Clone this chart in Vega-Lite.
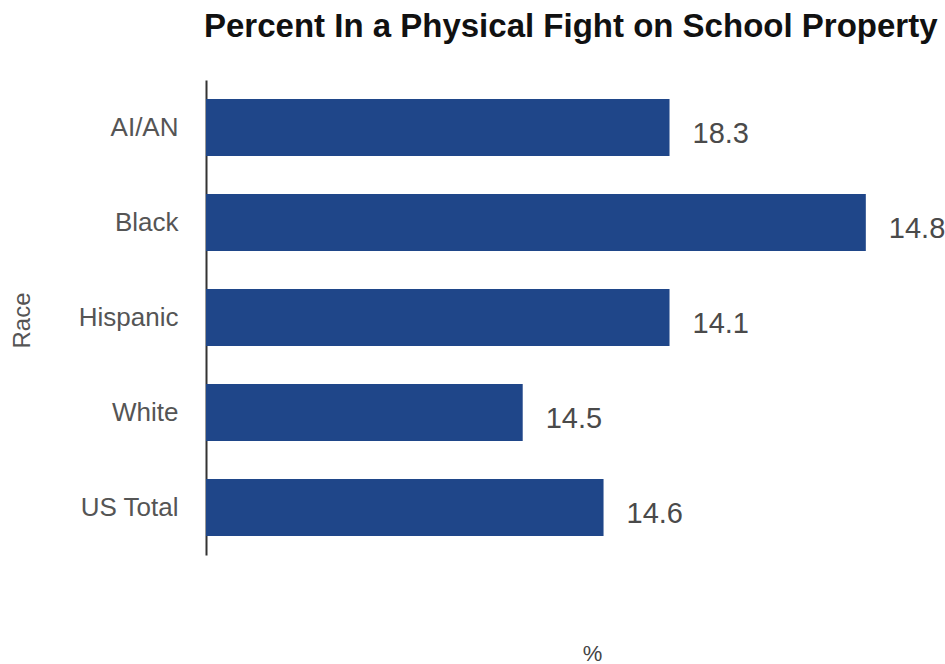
{
  "$schema": "https://vega.github.io/schema/vega-lite/v6.json",
  "autosize": "none",
  "width": 739,
  "height": 475,
  "padding": {"left": 206, "top": 80, "right": 0, "bottom": 109},
  "background": "white",
  "config": {"view": {"stroke": null}, "font": "Liberation Sans"},
  "title": {
    "text": "Percent In a Physical Fight on School Property",
    "anchor": "start",
    "frame": "group",
    "fontSize": 33,
    "fontWeight": "bold",
    "color": "#111111",
    "font": "Liberation Sans",
    "offset": 36,
    "dx": -2
  },
  "data": {
    "values": [
      {"race": "AI/AN", "value": 14.05, "label": "18.3"},
      {"race": "Black", "value": 20.0, "label": "14.8"},
      {"race": "Hispanic", "value": 14.05, "label": "14.1"},
      {"race": "White", "value": 9.6, "label": "14.5"},
      {"race": "US Total", "value": 12.05, "label": "14.6"}
    ]
  },
  "encoding": {
    "y": {
      "field": "race",
      "type": "nominal",
      "sort": ["AI/AN", "Black", "Hispanic", "White", "US Total"],
      "scale": {"paddingInner": 0.4, "paddingOuter": 0.2},
      "axis": {
        "title": "Race",
        "titleFontSize": 24,
        "titleFontWeight": "normal",
        "titleColor": "#555555",
        "titleX": -184,
        "titleY": 240,
        "titleBaseline": "middle",
        "titleAlign": "center",
        "titleAngle": -90,
        "labelFontSize": 26,
        "labelColor": "#555555",
        "labelPadding": 28,
        "ticks": false,
        "domain": true,
        "domainColor": "#333333",
        "domainWidth": 2,
        "grid": false
      }
    },
    "x": {
      "field": "value",
      "type": "quantitative",
      "scale": {"domain": [0, 22.4], "nice": false, "zero": true},
      "axis": {
        "title": "%",
        "titleFontSize": 22,
        "titleFontWeight": "normal",
        "titleColor": "#444444",
        "titleX": 386,
        "titleY": 105,
        "titleAlign": "center",
        "titleBaseline": "alphabetic",
        "labels": false,
        "ticks": false,
        "domain": false,
        "grid": false
      }
    }
  },
  "layer": [
    {"mark": {"type": "bar", "color": "#1F4689"}},
    {
      "mark": {"type": "text", "align": "left", "baseline": "middle", "dx": 23, "dy": 6, "fontSize": 29, "color": "#4a4a4a"},
      "encoding": {"text": {"field": "label", "type": "nominal"}}
    }
  ]
}
